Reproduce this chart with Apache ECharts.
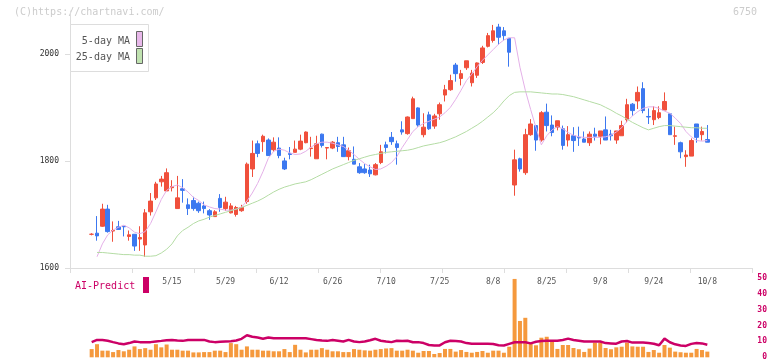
<!DOCTYPE html>
<html><head><meta charset="utf-8">
<script src="https://cdn.jsdelivr.net/npm/echarts@6/dist/echarts.min.js"></script>
<style>html,body{margin:0;padding:0;background:#fff}#c{width:772px;height:361px}</style>
</head><body><div id="c"></div>
<script>
const dates = ['4/21','4/22','4/23','4/24','4/25','4/28','4/30',
'5/1','5/2','5/7','5/8','5/9','5/12','5/13','5/14','5/15','5/16','5/19','5/20','5/21','5/22','5/23','5/26','5/27','5/28','5/29','5/30',
'6/2','6/3','6/4','6/5','6/6','6/9','6/10','6/11','6/12','6/13','6/16','6/17','6/18','6/19','6/20','6/23','6/24','6/25','6/26','6/27','6/30',
'7/1','7/2','7/3','7/4','7/7','7/8','7/9','7/10','7/11','7/14','7/15','7/16','7/17','7/18','7/22','7/23','7/24','7/25','7/28','7/29','7/30','7/31',
'8/1','8/4','8/5','8/6','8/7','8/8','8/12','8/13','8/14','8/15','8/18','8/19','8/20','8/21','8/22','8/25','8/26','8/27','8/28','8/29',
'9/1','9/2','9/3','9/4','9/5','9/8','9/9','9/10','9/11','9/12','9/16','9/17','9/18','9/19','9/22','9/24','9/25','9/26','9/29','9/30',
'10/1','10/2','10/3','10/6','10/7','10/8'];
const dateLabels = ['5/15','5/29','6/12','6/26','7/10','7/25','8/8','8/25','9/8','9/24','10/8'];
// [open, close, low, high]
const ohlc = [
[1663,1663,1661,1665],[1665,1660,1651,1697],[1678,1710,1677,1720],[1710,1668,1666,1718],[1669,1670,1649,1687],
[1677,1672,1671,1688],[1678,1677,1659,1678],[1659,1662,1651,1670],[1663,1641,1632,1663],[1654,1657,1632,1678],
[1643,1703,1621,1710],[1705,1725,1698,1740],[1731,1757,1727,1761],[1761,1766,1752,1772],[1744,1778,1744,1786],
[1750,1752,1743,1764],[1711,1731,1711,1772],[1748,1745,1722,1766],[1718,1711,1699,1730],[1726,1711,1707,1733],
[1721,1707,1703,1724],[1716,1711,1702,1724],[1707,1699,1690,1710],[1696,1705,1696,1708],[1730,1713,1705,1738],
[1711,1723,1707,1733],[1703,1716,1702,1721],[1700,1713,1696,1716],[1707,1713,1705,1718],[1724,1794,1720,1797],
[1785,1814,1770,1838],[1832,1814,1807,1838],[1836,1846,1817,1849],[1839,1810,1810,1842],[1821,1835,1817,1844],
[1824,1810,1805,1844],[1800,1785,1783,1806],[1814,1812,1803,1826],[1816,1822,1816,1838],[1822,1837,1820,1849],
[1834,1854,1833,1855],[1823,1824,1808,1845],[1804,1832,1804,1847],[1850,1829,1825,1851],[1824,1825,1803,1825],
[1824,1835,1822,1837],[1834,1827,1817,1845],[1830,1808,1808,1845],[1808,1819,1801,1825],[1803,1794,1794,1827],
[1789,1778,1776,1796],[1785,1778,1776,1794],[1783,1776,1770,1793],[1774,1793,1773,1796],[1797,1817,1794,1830],
[1830,1825,1814,1836],[1844,1836,1830,1854],[1832,1825,1793,1838],[1858,1854,1849,1874],[1851,1882,1849,1883],
[1879,1916,1879,1920],[1899,1867,1864,1900],[1849,1863,1844,1889],[1886,1860,1858,1892],[1865,1884,1860,1888],
[1888,1905,1877,1909],[1923,1933,1911,1942],[1933,1950,1931,1961],[1979,1963,1948,1983],[1954,1963,1941,1970],
[1974,1987,1970,1987],[1946,1964,1939,1970],[1960,1983,1955,1984],[1984,2011,1981,2015],[2014,2034,2012,2039],
[2025,2043,2021,2054],[2050,2031,2017,2056],[2043,2034,2025,2050],[2029,2003,1976,2029],[1755,1802,1735,1821],
[1804,1785,1780,1806],[1778,1849,1774,1860],[1849,1869,1847,1878],[1866,1839,1819,1866],[1839,1890,1836,1893],
[1891,1866,1855,1907],[1867,1853,1846,1885],[1863,1875,1857,1875],[1860,1829,1821,1866],[1839,1849,1827,1865],
[1847,1838,1817,1863],[1844,1843,1828,1864],[1841,1835,1835,1855],[1834,1850,1828,1855],[1850,1846,1838,1862],
[1846,1856,1831,1856],[1858,1839,1839,1883],[1850,1847,1838,1858],[1839,1856,1832,1856],[1847,1866,1847,1875],
[1877,1905,1872,1916],[1906,1894,1884,1908],[1912,1928,1897,1939],[1935,1894,1889,1947],[1883,1882,1869,1898],
[1877,1894,1867,1902],[1881,1890,1878,1902],[1895,1911,1895,1928],[1888,1849,1849,1888],[1846,1847,1830,1864],
[1834,1817,1805,1836],[1808,1811,1789,1820],[1809,1838,1809,1842],[1869,1844,1834,1869],[1849,1855,1838,1864],
[1840,1835,1835,1867]];
const ma5 = [null,1621,1645,1662,1671,1676,1680,1675,1667,1664,1668,1683,1705,1728,1745,1752,1755,1750,1742,1732,
1726,1718,1714,1711,1710,1708,1708,1710,1714,1725,1740,1758,1780,1805,1818,1822,1820,1815,1812,1813,
1818,1826,1832,1835,1835,1833,1830,1827,1820,1812,1803,1795,1789,1784,1785,1790,1797,1808,1825,1840,
1855,1864,1870,1874,1878,1882,1890,1900,1915,1932,1950,1962,1976,1988,1998,2008,2018,2026,2030,2030,
1975,1932,1896,1862,1830,1847,1858,1864,1860,1853,1848,1845,1844,1844,1844,1844,1845,1848,1854,1862,
1874,1884,1892,1898,1901,1901,1898,1893,1889,1880,1870,1855,1845,1838,1837,1838];
const ma25 = [null,1629,1629,1628,1627,1626,1625,1625,1624,1624,1622,1622,1623,1628,1635,1645,1660,1670,1676,1683,
1688,1691,1695,1698,1701,1704,1707,1710,1713,1717,1721,1725,1730,1736,1742,1747,1751,1754,1757,1759,
1761,1765,1770,1775,1780,1785,1789,1793,1797,1801,1804,1807,1810,1812,1814,1816,1817,1818,1819,1820,
1822,1825,1828,1830,1832,1834,1837,1841,1845,1850,1855,1861,1867,1874,1882,1890,1900,1912,1922,1928,
1929,1929,1929,1928,1927,1926,1925,1925,1924,1922,1920,1917,1914,1911,1908,1905,1900,1895,1889,1884,
1878,1872,1867,1862,1858,1861,1864,1866,1866,1865,1864,1863,1862,1862,1861,1861];
const aiBars = [5.2,8.3,4.2,4.2,3.3,4.6,3.8,4.8,6.9,5.2,5.8,4.8,8.3,6.3,8.1,4.8,4.8,4.2,4.2,3.1,
3.1,3.3,3.3,4.2,4.2,3.3,9.0,8.3,4.8,6.9,4.8,4.8,4.2,4.2,3.8,3.8,5.2,3.3,7.9,4.8,
3.1,4.8,4.8,5.8,4.8,3.8,3.8,3.3,3.3,5.2,4.8,4.4,4.2,4.8,5.2,5.6,5.8,4.2,
4.2,4.8,4.2,2.9,4.0,4.0,2.1,2.7,5.3,5.3,3.6,4.6,3.4,2.9,3.4,4.0,2.9,4.2,4.2,2.9,6.7,49.6,
23,25,9.3,7.6,12.4,13.0,9.7,5.3,7.8,7.8,5.9,5.1,3.4,5.5,9.3,9.3,5.9,5.1,6.3,6.7,
9.3,6.9,6.7,6.7,3.4,4.6,2.9,7.8,6.1,3.6,3.2,2.9,2.9,5.3,4.6,3.6];
const aiLine = [9.6,11,11,10.5,9.6,8.8,8.3,9,10,9.6,9.6,9.6,10,10.4,10.8,11,10.6,10.4,11,11,
11,11,10,9.6,9.8,10,10.2,10.6,11.7,14,13,12.5,11.8,12.5,12,12,12.1,12.1,12.1,12.1,
12,11.5,11,10.6,10.4,11,10.5,10,11,10,9.6,10,10.8,11.7,10.5,10,9.6,10.5,
10.3,10.5,9.5,9.6,9.0,7.8,7.5,7.5,9.5,10.5,10.3,10,9,8.6,8.6,8.6,8.6,8.4,7.6,7.5,8.5,9.5,
9.6,9.5,8.8,9.8,10.3,10.5,10.5,10.5,11,11.8,11,10.5,10,10,10,10,9,8.8,8.6,10,
10.3,9.3,9.3,9.3,9,8.6,7.6,11.8,9.5,8.2,7.5,7.2,8.5,9,8.8,8];
const priceTicks = [1600,1800,2000];

const MONO = "'DejaVu Sans Mono', monospace";
const chart = echarts.init(document.getElementById('c'), null, {renderer:'canvas'});
chart.setOption({
  animation:false,
  grid:[
    {left:70, right:20, top:11, height:257},
    {left:89, width:621, top:11, height:257},
    {left:89, width:621, top:278.3, height:79},
    {left:70, right:20, top:278.3, height:79}
  ],
  xAxis:[
    {gridIndex:0, type:'value', min:0, max:11, interval:1,
     axisLine:{show:true, lineStyle:{color:'#ddd'}},
     axisTick:{show:true, length:5, lineStyle:{color:'#ddd'}},
     axisLabel:{show:false}, splitLine:{show:false}},
    {gridIndex:1, type:'category', data:dates, boundaryGap:true,
     axisLine:{show:false}, axisTick:{show:false}, splitLine:{show:false},
     axisLabel:{interval:(i,v)=>dateLabels.indexOf(v)>=0, fontFamily:MONO, fontSize:8, color:'#555', margin:10}},
    {gridIndex:2, type:'category', data:dates, boundaryGap:true, show:false},
    {gridIndex:3, type:'value', min:0, max:1, show:false}
  ],
  yAxis:[
    {gridIndex:0, type:'value', min:1600, max:2080, interval:200,
     axisLine:{show:true, lineStyle:{color:'#ddd'}},
     axisTick:{show:true, length:5, customValues:priceTicks, lineStyle:{color:'#ddd'}},
     axisLabel:{customValues:priceTicks, formatter:(v)=>String(v), fontFamily:MONO, fontSize:8, color:'#333', margin:11},
     splitLine:{show:false}},
    {gridIndex:1, type:'value', min:1600, max:2080, show:false},
    {gridIndex:2, type:'value', min:0, max:50, show:false},
    {gridIndex:3, type:'value', position:'right', min:0, max:50, interval:10,
     axisLine:{show:false}, axisTick:{show:false}, splitLine:{show:false},
     axisLabel:{fontFamily:MONO, fontSize:8, fontWeight:'bold', color:'#cc0066', align:'right', margin:15}}
  ],
  series:[
    {type:'candlestick', xAxisIndex:1, yAxisIndex:1, data:ohlc, barWidth:4,
     itemStyle:{color:'#f0503c', color0:'#3c78f0', borderColor:'#f0503c', borderColor0:'#3c78f0', borderWidth:1}},
    {type:'line', xAxisIndex:1, yAxisIndex:1, data:ma5, symbol:'none', lineStyle:{color:'#e4b0e8', width:1}},
    {type:'line', xAxisIndex:1, yAxisIndex:1, data:ma25, symbol:'none', lineStyle:{color:'#b4dca4', width:1}},
    {type:'bar', xAxisIndex:2, yAxisIndex:2, data:aiBars, barWidth:4, itemStyle:{color:'#f5993d'}},
    {type:'line', xAxisIndex:2, yAxisIndex:2, data:aiLine, symbol:'none', lineStyle:{color:'#cc0066', width:2.5}}
  ],
  graphic:[
    {type:'text', left:14, top:7, style:{text:'(C)https://chartnavi.com/', font:"10px 'DejaVu Sans Mono'", fill:'#ccc'}},
    {type:'text', left:733, top:7, style:{text:'6750', font:"10px 'DejaVu Sans Mono'", fill:'#ccc'}},
    {type:'rect', shape:{x:70.5, y:24.5, width:78, height:47}, style:{fill:'#fff', stroke:'#ddd', lineWidth:1}, z:10},
    {type:'text', x:130, y:41, style:{text:'5-day MA', font:"10px 'DejaVu Sans Mono'", fill:'#555', align:'right', verticalAlign:'middle'}, z:11},
    {type:'rect', shape:{x:136.5, y:31.5, width:6, height:15}, style:{fill:'#e8b8ea', stroke:'#666', lineWidth:1}, z:11},
    {type:'text', x:130, y:57, style:{text:'25-day MA', font:"10px 'DejaVu Sans Mono'", fill:'#555', align:'right', verticalAlign:'middle'}, z:11},
    {type:'rect', shape:{x:136.5, y:48.5, width:6, height:15}, style:{fill:'#c0e2b0', stroke:'#666', lineWidth:1}, z:11},
    {type:'text', x:75, y:286, style:{text:'AI-Predict', font:"10px 'DejaVu Sans Mono'", fill:'#cc0066', verticalAlign:'middle'}, z:11},
    {type:'rect', shape:{x:143, y:277, width:6, height:16}, style:{fill:'#cc0066'}, z:11}
  ]
});
</script></body></html>
